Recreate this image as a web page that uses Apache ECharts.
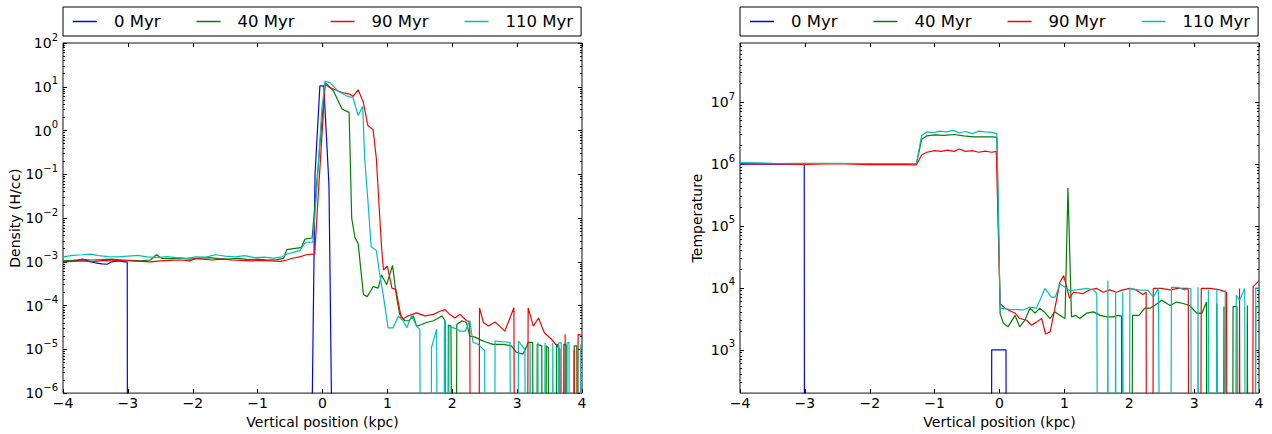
<!DOCTYPE html>
<html>
<head>
<meta charset="utf-8">
<title>Density and temperature profiles</title>
<script src="https://cdn.jsdelivr.net/npm/echarts@6/dist/echarts.min.js"></script>
<style>
  html, body { margin: 0; padding: 0; background: #fff; }
  #chart { width: 1272px; height: 434px; }
</style>
</head>
<body>
<div id="chart"></div>
<script>
// Snapshot labels and line colours
const seriesNames = ['0 Myr', '40 Myr', '90 Myr', '110 Myr'];
const seriesColors = ['#0000ff', '#008000', '#ff0000', '#00bfbf'];

// Axis ticks
const xTicks = [-4, -3, -2, -1, 0, 1, 2, 3, 4];
const densityRange = [1e-6, 1e2];
const densityDecades = [-6, -5, -4, -3, -2, -1, 0, 1, 2];
const temperatureRange = [200, 9e7];
const temperatureDecades = [3, 4, 5, 6, 7];
const minorSteps = [2, 3, 4, 5, 6, 7, 8, 9];

// Density (H/cc) against vertical position (kpc); 0 = empty cell
const density0 = [
  [-4.00, 1.00e-3], [-3.90, 1.02e-3], [-3.80, 1.05e-3], [-3.70, 1.15e-3], [-3.62, 1.05e-3],
  [-3.50, 0.95e-3], [-3.40, 0.90e-3], [-3.32, 0.88e-3], [-3.25, 1.00e-3], [-3.15, 1.05e-3],
  [-3.05, 1.00e-3], [-3.01, 1.00e-3], [-3.00, 0], [-0.20, 0], [-0.165, 1e-7], [-0.115, 0.10],
  [-0.04, 10.5], [0.02, 10.5], [0.10, 0.055], [0.145, 1e-7], [0.20, 0], [4.00, 0]
];
const density40 = [
  [-4.00, 1.05e-3], [-3.85, 1.08e-3], [-3.70, 1.12e-3], [-3.55, 1.10e-3], [-3.40, 1.12e-3],
  [-3.25, 1.15e-3], [-3.10, 1.10e-3], [-2.95, 1.08e-3], [-2.80, 1.05e-3], [-2.65, 1.10e-3],
  [-2.56, 1.45e-3], [-2.48, 1.20e-3], [-2.35, 1.18e-3], [-2.20, 1.22e-3], [-2.05, 1.15e-3],
  [-1.90, 1.20e-3], [-1.75, 1.25e-3], [-1.60, 1.18e-3], [-1.45, 1.15e-3], [-1.30, 1.20e-3],
  [-1.15, 1.12e-3], [-1.00, 1.15e-3], [-0.85, 1.10e-3], [-0.70, 1.12e-3], [-0.60, 1.20e-3],
  [-0.55, 1.90e-3], [-0.45, 2.00e-3], [-0.33, 2.10e-3], [-0.27, 3.30e-3], [-0.16, 3.50e-3],
  [0.04, 12.3], [0.07, 11.5], [0.17, 8.0], [0.30, 3.1], [0.41, 2.6], [0.45, 1.0e-2],
  [0.50, 3.6e-3], [0.55, 2.6e-3], [0.63, 1.8e-4], [0.69, 1.6e-4], [0.78, 2.7e-4], [0.86, 2.5e-4],
  [0.91, 5.0e-4], [0.99, 3.0e-4], [1.08, 8.3e-4], [1.14, 1.6e-4], [1.19, 6.3e-5], [1.27, 4.5e-5],
  [1.33, 4.5e-5], [1.40, 5.8e-5], [1.45, 3.4e-5], [1.53, 3.7e-5], [1.60, 4.1e-5], [1.71, 4.5e-5],
  [1.84, 5.8e-5], [1.89, 4.5e-5], [1.90, 0], [1.92, 0], [1.94, 3.6e-5], [1.98, 3.4e-5],
  [2.02, 0], [2.05, 0], [2.07, 3.7e-5], [2.15, 4.5e-5], [2.22, 4.1e-5], [2.27, 2.0e-5],
  [2.35, 1.9e-5], [2.45, 1.6e-5], [2.53, 1.45e-5], [2.63, 1.3e-5], [2.79, 1.3e-5], [2.91, 1.2e-5],
  [2.99, 8.5e-6], [3.09, 7.8e-6], [3.15, 1.2e-5], [3.17, 1.45e-5], [3.24, 1.45e-5], [3.26, 0],
  [3.29, 0], [3.31, 1.3e-5], [3.38, 1.2e-5], [3.40, 0], [3.43, 0], [3.45, 1.2e-5], [3.48, 1.1e-5],
  [3.50, 0], [3.58, 0], [3.61, 1.3e-5], [3.64, 1.25e-5], [3.66, 0], [3.70, 0], [3.72, 1.3e-5],
  [3.76, 1.25e-5], [3.78, 0], [3.86, 0], [3.88, 1.2e-5], [3.92, 1.2e-5], [3.94, 0], [4.00, 0]
];
const density90 = [
  [-4.00, 1.00e-3], [-3.85, 1.02e-3], [-3.70, 1.05e-3], [-3.55, 1.00e-3], [-3.40, 1.08e-3],
  [-3.25, 1.05e-3], [-3.10, 1.10e-3], [-2.95, 1.05e-3], [-2.80, 1.02e-3], [-2.65, 1.00e-3],
  [-2.50, 1.05e-3], [-2.35, 1.08e-3], [-2.20, 1.10e-3], [-2.05, 1.05e-3], [-1.95, 1.20e-3],
  [-1.85, 1.15e-3], [-1.70, 1.10e-3], [-1.55, 1.15e-3], [-1.40, 1.10e-3], [-1.25, 1.08e-3],
  [-1.10, 1.05e-3], [-0.95, 1.08e-3], [-0.80, 1.05e-3], [-0.65, 1.02e-3], [-0.55, 1.10e-3],
  [-0.45, 1.22e-3], [-0.35, 1.30e-3], [-0.25, 1.45e-3], [-0.15, 1.50e-3], [-0.12, 1.50e-3],
  [-0.08, 1.5e-2], [0.04, 11.2], [0.12, 9.5], [0.30, 7.4], [0.42, 6.8], [0.47, 6.0], [0.55, 8.5],
  [0.63, 4.4], [0.70, 1.3], [0.78, 1.05], [0.83, 0.23], [0.88, 1.2e-2], [0.91, 2.2e-3],
  [0.94, 6.5e-4], [1.00, 8.0e-4], [1.07, 2.5e-4], [1.13, 2.35e-4], [1.22, 4.8e-5], [1.32, 5.8e-5],
  [1.45, 6.8e-5], [1.58, 5.8e-5], [1.71, 6.3e-5], [1.81, 7.4e-5], [1.89, 8.1e-5], [1.96, 6.3e-5],
  [2.04, 5.2e-5], [2.12, 6.3e-5], [2.22, 4.5e-5], [2.27, 4.3e-5], [2.30, 0], [2.40, 0],
  [2.42, 8.9e-5], [2.48, 4.1e-5], [2.56, 3.4e-5], [2.66, 4.2e-5], [2.73, 3.4e-5], [2.81, 2.6e-5],
  [2.89, 5.2e-5], [2.95, 8.9e-5], [2.98, 0], [3.14, 0], [3.17, 8.9e-5], [3.25, 3.4e-5],
  [3.33, 5.2e-5], [3.42, 2.4e-5], [3.53, 1.7e-5], [3.66, 1.0e-5], [3.69, 0], [3.72, 0],
  [3.74, 2.2e-5], [3.76, 0], [3.86, 0], [3.88, 1.0e-5], [3.90, 0], [3.92, 0], [3.94, 2.2e-5],
  [4.00, 2.1e-5]
];
const density110 = [
  [-4.00, 1.30e-3], [-3.85, 1.40e-3], [-3.70, 1.45e-3], [-3.58, 1.50e-3], [-3.45, 1.38e-3],
  [-3.30, 1.32e-3], [-3.15, 1.30e-3], [-3.00, 1.35e-3], [-2.85, 1.40e-3], [-2.70, 1.30e-3],
  [-2.55, 1.25e-3], [-2.40, 1.32e-3], [-2.25, 1.25e-3], [-2.10, 1.20e-3], [-1.95, 1.30e-3],
  [-1.80, 1.28e-3], [-1.65, 1.45e-3], [-1.50, 1.35e-3], [-1.35, 1.30e-3], [-1.20, 1.38e-3],
  [-1.05, 1.25e-3], [-0.90, 1.28e-3], [-0.75, 1.22e-3], [-0.62, 1.30e-3], [-0.55, 1.50e-3],
  [-0.45, 1.65e-3], [-0.35, 1.80e-3], [-0.26, 2.80e-3], [-0.15, 2.80e-3], [-0.09, 4.0e-2],
  [-0.01, 3.1], [0.04, 13.5], [0.12, 12.3], [0.24, 7.9], [0.37, 6.2], [0.47, 5.6], [0.55, 2.2],
  [0.62, 3.6], [0.65, 0.23], [0.70, 2.5e-2], [0.75, 2.2e-3], [0.83, 1.8e-3], [0.88, 5.4e-4],
  [0.94, 1.6e-4], [0.97, 8.0e-5], [1.01, 3.1e-5], [1.09, 3.1e-5], [1.17, 5.8e-5], [1.24, 4.5e-5],
  [1.30, 3.1e-5], [1.37, 5.8e-5], [1.45, 3.4e-5], [1.50, 2.9e-5], [1.53, 0], [1.66, 0],
  [1.68, 1.1e-5], [1.76, 2.9e-5], [1.78, 0], [1.86, 0], [1.88, 4.5e-5], [1.91, 0], [1.93, 0],
  [1.95, 3.4e-5], [2.07, 2.9e-5], [2.12, 2.6e-5], [2.20, 2.6e-5], [2.27, 4.5e-5], [2.32, 1.45e-5],
  [2.40, 1.3e-5], [2.50, 9.3e-6], [2.52, 0], [2.64, 0], [2.66, 1.55e-5], [2.75, 1.5e-5],
  [2.89, 1.45e-5], [2.93, 0], [3.00, 0], [3.02, 1.55e-5], [3.12, 1.0e-5], [3.14, 0], [3.18, 0],
  [3.20, 1.4e-5], [3.23, 0], [3.30, 0], [3.32, 1.45e-5], [3.35, 0], [3.41, 0], [3.43, 1.4e-5],
  [3.46, 0], [3.53, 0], [3.55, 1.4e-5], [3.58, 0], [3.62, 0], [3.64, 1.4e-5], [3.68, 1.4e-5],
  [3.70, 0], [3.75, 0], [3.77, 1.4e-5], [3.80, 1.45e-5], [3.82, 0], [3.95, 0], [3.98, 1.3e-5],
  [4.00, 1.2e-5]
];

// Temperature (K) against vertical position (kpc); 0 = empty cell
const temp0 = [
  [-4.00, 1.0e6], [-3.50, 1.0e6], [-3.01, 1.0e6], [-3.00, 0], [-0.14, 0], [-0.12, 1.0e3],
  [0.10, 1.0e3], [0.12, 0], [4.00, 0]
];
const temp40 = [
  [-4.00, 1.03e6], [-3.50, 1.02e6], [-3.00, 1.03e6], [-2.50, 1.02e6], [-2.00, 1.02e6],
  [-1.50, 1.01e6], [-1.28, 1.01e6], [-1.20, 2.5e6], [-1.12, 2.85e6], [-1.00, 2.95e6],
  [-0.85, 2.9e6], [-0.70, 3.0e6], [-0.55, 2.85e6], [-0.40, 2.75e6], [-0.25, 2.75e6],
  [-0.10, 2.75e6], [-0.04, 2.7e6], [0.01, 3.8e3], [0.06, 2.7e3], [0.13, 2.35e3], [0.24, 3.6e3],
  [0.31, 2.35e3], [0.39, 3.0e3], [0.47, 4.7e3], [0.55, 3.9e3], [0.62, 4.7e3], [0.70, 4.0e3],
  [0.78, 3.2e3], [0.85, 4.1e3], [0.93, 3.6e3], [1.01, 3.2e3], [1.055, 4.1e5], [1.11, 3.4e3],
  [1.17, 3.6e3], [1.24, 3.2e3], [1.34, 3.9e3], [1.45, 4.1e3], [1.55, 3.6e3], [1.65, 3.4e3],
  [1.75, 3.4e3], [1.83, 3.6e3], [1.88, 3.5e3], [1.90, 0], [2.02, 0], [2.05, 3.6e3], [2.15, 3.6e3],
  [2.24, 4.7e3], [2.32, 4.7e3], [2.39, 5.2e3], [2.50, 6.3e3], [2.63, 5.2e3], [2.73, 5.9e3],
  [2.83, 5.6e3], [2.93, 5.2e3], [3.04, 3.9e3], [3.12, 3.9e3], [3.19, 5.9e3], [3.21, 0], [3.33, 0],
  [3.35, 5.6e3], [3.38, 0], [3.44, 0], [3.46, 5.0e3], [3.49, 0], [3.58, 0], [3.60, 5.0e3],
  [3.66, 5.0e3], [3.68, 0], [3.80, 0], [3.82, 5.2e3], [3.85, 0], [3.92, 0], [3.95, 5.0e3],
  [4.00, 5.0e3]
];
const temp90 = [
  [-4.00, 1.0e6], [-3.50, 1.01e6], [-3.00, 0.99e6], [-2.50, 1.01e6], [-2.00, 0.98e6],
  [-1.50, 0.98e6], [-1.28, 0.97e6], [-1.20, 1.4e6], [-1.12, 1.55e6], [-1.00, 1.65e6],
  [-0.90, 1.6e6], [-0.80, 1.68e6], [-0.70, 1.6e6], [-0.62, 1.75e6], [-0.52, 1.6e6],
  [-0.42, 1.65e6], [-0.32, 1.55e6], [-0.22, 1.62e6], [-0.12, 1.55e6], [-0.05, 1.6e6],
  [0.01, 5.6e3], [0.08, 4.7e3], [0.24, 3.9e3], [0.31, 3.2e3], [0.42, 3.0e3], [0.49, 2.5e3],
  [0.57, 2.8e3], [0.65, 3.2e3], [0.71, 1.8e3], [0.78, 1.95e3], [0.85, 4.4e3], [0.93, 1.23e4],
  [0.99, 1.58e4], [1.08, 6.8e3], [1.14, 8.5e3], [1.29, 8.1e3], [1.39, 9.3e3], [1.50, 9.8e3],
  [1.60, 8.5e3], [1.70, 9.3e3], [1.80, 8.5e3], [1.90, 9.3e3], [2.01, 9.8e3], [2.10, 9.3e3],
  [2.21, 7.8e3], [2.26, 8.5e3], [2.28, 0], [2.35, 0], [2.37, 9.8e3], [2.50, 9.8e3], [2.63, 9.3e3],
  [2.75, 9.8e3], [2.91, 9.8e3], [2.93, 0], [3.08, 0], [3.11, 9.8e3], [3.25, 9.8e3], [3.40, 9.3e3],
  [3.50, 8.5e3], [3.52, 0], [3.68, 0], [3.70, 9.8e3], [3.72, 0], [3.88, 0], [3.91, 1.05e4],
  [4.00, 1.3e4]
];
const temp110 = [
  [-4.00, 1.05e6], [-3.50, 1.03e6], [-3.00, 1.02e6], [-2.50, 1.03e6], [-2.00, 1.02e6],
  [-1.50, 1.02e6], [-1.28, 1.02e6], [-1.20, 2.9e6], [-1.12, 3.3e6], [-1.02, 3.2e6],
  [-0.92, 3.4e6], [-0.82, 3.3e6], [-0.72, 3.5e6], [-0.62, 3.2e6], [-0.52, 3.35e6],
  [-0.42, 3.1e6], [-0.32, 3.4e6], [-0.22, 3.3e6], [-0.12, 3.25e6], [-0.04, 3.1e6],
  [0.01, 4.7e3], [0.16, 4.5e3], [0.37, 4.4e3], [0.47, 4.9e3], [0.57, 4.7e3], [0.70, 9.8e3],
  [0.80, 7.1e3], [0.86, 7.1e3], [0.93, 1.17e4], [1.01, 1.02e4], [1.08, 9.1e3], [1.19, 9.3e3],
  [1.34, 9.8e3], [1.45, 9.3e3], [1.50, 8.1e3], [1.54, 0], [1.65, 0], [1.67, 1.32e4], [1.69, 0],
  [1.77, 0], [1.79, 8.5e3], [1.81, 0], [1.88, 0], [1.90, 8.5e3], [1.93, 0], [1.98, 0],
  [2.01, 9.8e3], [2.14, 9.3e3], [2.29, 9.1e3], [2.37, 7.1e3], [2.45, 9.8e3], [2.51, 0], [2.62, 0],
  [2.65, 1.02e4], [2.75, 1.02e4], [2.85, 9.3e3], [2.95, 9.8e3], [2.97, 0], [3.04, 0],
  [3.06, 1.02e4], [3.09, 0], [3.20, 0], [3.22, 9.3e3], [3.25, 0], [3.33, 0], [3.35, 9.8e3],
  [3.38, 0], [3.46, 0], [3.48, 9.3e3], [3.51, 0], [3.60, 0], [3.65, 7.6e3], [3.70, 6.3e3],
  [3.78, 9.8e3], [3.80, 0], [3.93, 0], [3.95, 1.0e4], [4.00, 9.8e3]
];

const densitySets = [density0, density40, density90, density110];
const temperatureSets = [temp0, temp40, temp90, temp110];

const FONT = 'DejaVu Sans';
const INK = '#000';

// log10 axes: empty cells are sent far below the lower limit and clipped by the grid
function toLog(points, floor) {
  return points.map(([x, v]) => [x, v > 0 ? Math.log10(v) : floor]);
}
function minusSign(n) {
  return n < 0 ? '\u2212' + Math.abs(n) : String(n);
}
function minorPositions(decades, lo, hi) {
  const out = [];
  for (let d = decades[0] - 1; d <= decades[decades.length - 1]; d++) {
    minorSteps.forEach(k => {
      const p = d + Math.log10(k);
      if (p > lo + 1e-6 && p < hi - 1e-6) out.push(p);
    });
  }
  return out;
}

const powerRich = {
  b: { fontSize: 14, fontFamily: FONT, color: INK, lineHeight: 14, verticalAlign: 'middle' },
  e: { fontSize: 10, fontFamily: FONT, color: INK, lineHeight: 10, verticalAlign: 'middle', padding: [0, 0, 12, 0] }
};
function powerLabel(v) {
  return '{b|10}{e|' + minusSign(Math.round(v)) + '}';
}

const grids = [
  { left: 63, top: 43, width: 519, height: 355 },
  { left: 740, top: 43, width: 519, height: 355 }
].map(g => Object.assign(g, { show: true, borderColor: '#111', borderWidth: 1, backgroundColor: 'transparent' }));

function xAxesFor(gi) {
  const base = {
    type: 'value', gridIndex: gi, min: xTicks[0], max: xTicks[xTicks.length - 1], interval: 1,
    axisLine: { show: false, onZero: false }, splitLine: { show: false },
    axisTick: { show: true, inside: true, length: 4, lineStyle: { color: INK, width: 1 } }
  };
  return [
    Object.assign({}, base, {
      position: 'bottom',
      axisLabel: { margin: 3, fontSize: 14, fontFamily: FONT, color: INK, formatter: v => minusSign(v) },
      name: 'Vertical position (kpc)', nameLocation: 'middle', nameGap: 18,
      nameTextStyle: { fontSize: 14, fontFamily: FONT, color: INK }
    }),
    Object.assign({}, base, { position: 'top', axisLabel: { show: false } })
  ];
}

function yAxesFor(gi, lo, hi, majors, name, nameGap) {
  const minors = minorPositions(majors, lo, hi);
  const base = {
    type: 'value', gridIndex: gi, min: lo, max: hi,
    axisLine: { show: false, onZero: false }, splitLine: { show: false }
  };
  const tick = (vals, len) => ({ show: true, inside: true, length: len, customValues: vals, lineStyle: { color: INK, width: 1 } });
  return [
    Object.assign({}, base, {
      position: 'left', axisTick: tick(majors, 4),
      axisLabel: { customValues: majors, margin: 5, formatter: powerLabel, rich: powerRich },
      name: name, nameLocation: 'middle', nameRotate: 90, nameGap: nameGap,
      nameTextStyle: { fontSize: 14, fontFamily: FONT, color: INK }
    }),
    Object.assign({}, base, { position: 'left', axisTick: tick(minors, 2), axisLabel: { show: false } }),
    Object.assign({}, base, { position: 'right', axisTick: tick(majors, 4), axisLabel: { show: false } }),
    Object.assign({}, base, { position: 'right', axisTick: tick(minors, 2), axisLabel: { show: false } })
  ];
}

const dLo = Math.log10(densityRange[0]), dHi = Math.log10(densityRange[1]);
const tLo = Math.log10(temperatureRange[0]), tHi = Math.log10(temperatureRange[1]);

const legendBase = {
  data: seriesNames, orient: 'horizontal', top: 7, icon: 'rect',
  itemWidth: 24, itemHeight: 1.5, itemGap: 36, padding: [6, 8, 6, 10],
  borderColor: INK, borderWidth: 1, borderRadius: 0, selectedMode: false,
  itemStyle: { borderWidth: 0 },
  textStyle: { fontSize: 16.5, fontFamily: FONT, color: INK, padding: [0, 0, 0, 12] }
};

const series = [];
seriesNames.forEach((name, i) => {
  const common = {
    type: 'line', name: name, symbol: 'none', showSymbol: false, clip: true, silent: true,
    lineStyle: { color: seriesColors[i], width: 1.2 }, itemStyle: { color: seriesColors[i] },
    emphasis: { disabled: true }
  };
  series.push(Object.assign({}, common, { xAxisIndex: 0, yAxisIndex: 0, data: toLog(densitySets[i], dLo - 10) }));
  series.push(Object.assign({}, common, { xAxisIndex: 2, yAxisIndex: 4, data: toLog(temperatureSets[i], tLo - 10) }));
});

const chart = echarts.init(document.getElementById('chart'), null, { renderer: 'svg' });
chart.setOption({
  animation: false,
  backgroundColor: '#fff',
  textStyle: { fontFamily: FONT },
  grid: grids,
  legend: [
    Object.assign({}, legendBase, { left: 63 }),
    Object.assign({}, legendBase, { left: 740 })
  ],
  xAxis: xAxesFor(0).concat(xAxesFor(1)),
  yAxis: yAxesFor(0, dLo, dHi, densityDecades, 'Density (H/cc)', 38)
    .concat(yAxesFor(1, tLo, tHi, temperatureDecades, 'Temperature', 36)),
  series: series
});
</script>
</body>
</html>
